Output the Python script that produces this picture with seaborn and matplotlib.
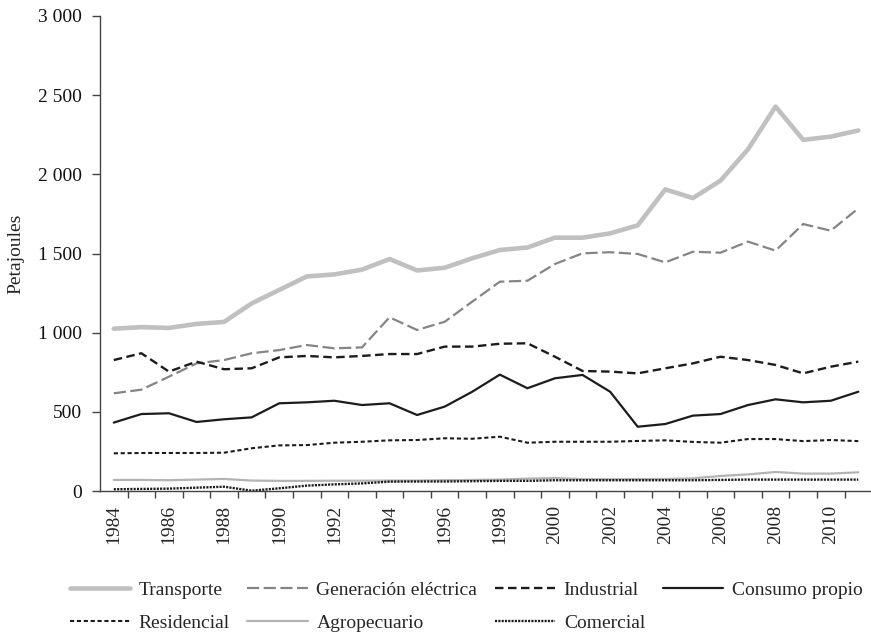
import numpy as np
import pandas as pd
import matplotlib
matplotlib.use("Agg")
import matplotlib.pyplot as plt
import matplotlib.ticker as mticker
import seaborn as sns

# ----------------------------
# DATA (petajoules)
# ----------------------------
years = list(range(1984, 2012))

transporte = [1025, 1035, 1030, 1055, 1068, 1185, 1270, 1355, 1368, 1398, 1465, 1393, 1410, 1470, 1522,
              1538, 1600, 1600, 1627, 1678, 1905, 1850, 1960, 2158, 2428, 2218, 2238, 2277]
generacion = [617, 640, 722, 806, 827, 870, 890, 922, 901, 907, 1097, 1017, 1069, 1196, 1322,
              1328, 1434, 1501, 1508, 1497, 1444, 1511, 1505, 1575, 1518, 1686, 1644, 1785]
industrial = [827, 870, 754, 817, 769, 775, 844, 853, 844, 853, 865, 865, 912, 912, 930,
              933, 848, 758, 754, 743, 775, 806, 848, 827, 796, 743, 785, 817]
consumo = [432, 486, 491, 436, 453, 465, 554, 560, 570, 543, 554, 480, 533, 627, 735,
           649, 712, 733, 627, 406, 423, 476, 486, 543, 579, 560, 570, 627]
residencial = [238, 240, 240, 240, 242, 270, 288, 290, 305, 311, 320, 322, 333, 330, 343,
               305, 311, 311, 311, 316, 320, 310, 305, 328, 328, 315, 322, 315]
agropecuario = [70, 70, 68, 72, 76, 66, 64, 64, 65, 65, 66, 66, 68, 70, 72,
                78, 82, 75, 74, 75, 76, 80, 95, 105, 120, 110, 110, 118]
comercial = [11, 13, 15, 21, 27, 2, 17, 34, 42, 48, 59, 60, 60, 62, 64,
             64, 68, 68, 68, 68, 68, 68, 70, 72, 72, 72, 72, 72]

series = [
    ("Transporte", transporte, "#c0c0c0", 3.3, "-"),
    ("Generación eléctrica", generacion, "#858585", 1.6, (0, (5.5, 2.0))),
    ("Industrial", industrial, "#1c1c1c", 1.7, (0, (3.6, 1.9))),
    ("Consumo propio", consumo, "#1c1c1c", 1.6, "-"),
    ("Residencial", residencial, "#1c1c1c", 1.5, (0, (2.0, 1.3))),
    ("Agropecuario", agropecuario, "#b3b3b3", 1.6, "-"),
    ("Comercial", comercial, "#1c1c1c", 1.7, (0, (0.9, 0.5))),
]

# ----------------------------
# STYLE
# ----------------------------
sns.set_style("ticks")
plt.rcParams["font.family"] = ["Liberation Serif", "DejaVu Serif"]
plt.rcParams["font.size"] = 14

fig = plt.figure(figsize=(8.71, 6.36), dpi=100)
ax = fig.add_axes([100 / 871, 1 - 491 / 636, 1 - 100 / 871, (491 - 16) / 636])

for name, vals, color, lw, ls in series:
    df = pd.DataFrame({"year": years, "value": vals})
    sns.lineplot(data=df, x="year", y="value", ax=ax, color=color,
                 linewidth=lw, linestyle=ls, label=name)

# ----------------------------
# AXES
# ----------------------------
ax.set_xlim(1983.5, 2011.46)
ax.set_ylim(0, 3000)

ax.set_yticks(np.arange(0, 3001, 500))
ax.yaxis.set_major_formatter(mticker.FuncFormatter(lambda v, p: f"{v:,.0f}".replace(",", " ")))

# ticks between categories, labels on every other year
ax.set_xticks(np.arange(1984.5, 2011, 1.0))
ax.set_xticklabels([])
ax.set_xticks(years[::2], minor=True)
ax.set_xticklabels([str(y) for y in years[::2]], minor=True, rotation=90)
ax.tick_params(axis="x", which="minor", length=0, pad=10)
ax.tick_params(axis="x", which="major", length=5, width=1, color="#444444", direction="out")
ax.tick_params(axis="y", length=6, width=1, color="#444444", pad=7)
ax.tick_params(labelsize=14, labelcolor="#111111")

for s in ["top", "right"]:
    ax.spines[s].set_visible(False)
for s in ["left", "bottom"]:
    ax.spines[s].set_color("#444444")
    ax.spines[s].set_linewidth(1.0)

ax.set_xlabel("")
ax.set_ylabel("Petajoules", fontsize=14, labelpad=10)

# ----------------------------
# LEGEND (row-wise order in 4 columns)
# ----------------------------
handles, labels = ax.get_legend_handles_labels()
order = [0, 4, 1, 5, 2, 6, 3]
ax.legend([handles[i] for i in order], [labels[i] for i in order],
          ncol=4, frameon=False, fontsize=14, loc="center",
          bbox_to_anchor=(0.535, 0.046), bbox_transform=fig.transFigure,
          handlelength=3.1, handletextpad=0.45, columnspacing=0.9,
          labelspacing=0.8, borderpad=0)

fig.savefig("out.png", dpi=100)
